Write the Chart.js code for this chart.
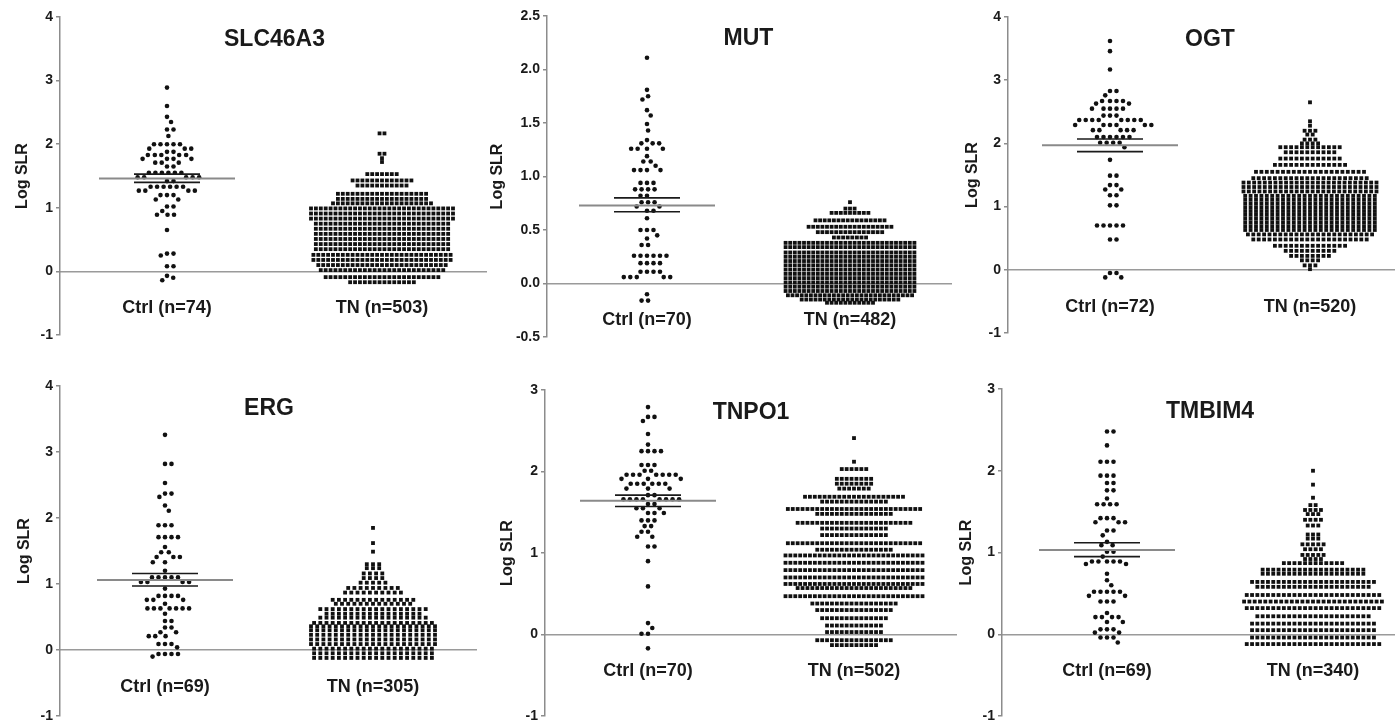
<!DOCTYPE html>
<html>
<head>
<meta charset="utf-8">
<script src="https://cdn.jsdelivr.net/npm/chart.js"></script>
<style>
  body { margin: 0; background: #fff; }
  #wrap { position: relative; width: 1395px; height: 724px; overflow: hidden; }
  #wrap canvas { position: absolute; }
</style>
</head>
<body>
<div id="wrap"></div>
<script>
// ---- data ----
const genes = ['SLC46A3', 'MUT', 'OGT', 'ERG', 'TNPO1', 'TMBIM4'];
const ctrlN = [74, 70, 72, 69, 70, 69];
const tnN = [503, 482, 520, 305, 502, 340];
const yMin = [-1, -0.5, -1, -1, -1, -1];
const yMax = [4, 2.5, 4, 4, 3, 3];
const yStep = [1, 0.5, 1, 1, 1, 1];
const ctrlMean = [1.46, 0.73, 1.97, 1.06, 1.64, 1.03];
const ctrlSemHi = [1.53, 0.80, 2.07, 1.16, 1.71, 1.12];
const ctrlSemLo = [1.40, 0.67, 1.87, 0.97, 1.57, 0.95];

// Ctrl groups: value levels and how many points sit at each level
const slcCtrlLevels = [2.89, 2.60, 2.43, 2.35, 2.23, 2.13, 2.00, 1.93, 1.88, 1.83, 1.77, 1.71, 1.65, 1.55, 1.48, 1.42, 1.33, 1.27, 1.20, 1.13, 1.02, 0.95, 0.89, 0.65, 0.28, 0.25, 0.08, -0.07, -0.10, -0.14];
const slcCtrlCounts = [1, 1, 1, 1, 2, 1, 5, 3, 2, 5, 4, 3, 2, 6, 5, 2, 6, 4, 3, 2, 2, 1, 3, 1, 2, 1, 2, 1, 1, 1];
const mutCtrlLevels = [2.11, 1.81, 1.75, 1.72, 1.62, 1.57, 1.49, 1.43, 1.34, 1.31, 1.26, 1.19, 1.14, 1.10, 1.06, 0.94, 0.88, 0.82, 0.76, 0.72, 0.68, 0.61, 0.50, 0.45, 0.42, 0.36, 0.26, 0.19, 0.11, 0.06, -0.10, -0.16];
const mutCtrlCounts = [1, 1, 1, 1, 1, 1, 1, 1, 1, 3, 4, 1, 2, 1, 4, 3, 4, 2, 3, 2, 2, 1, 3, 1, 1, 2, 6, 4, 4, 5, 1, 2];
const ogtCtrlLevels = [3.62, 3.46, 3.17, 2.83, 2.76, 2.67, 2.63, 2.55, 2.44, 2.37, 2.29, 2.21, 2.10, 2.01, 1.94, 1.74, 1.49, 1.34, 1.27, 1.18, 1.02, 0.70, 0.48, -0.05, -0.12];
const ogtCtrlCounts = [1, 1, 1, 2, 1, 4, 2, 5, 3, 8, 6, 5, 6, 4, 1, 1, 2, 2, 2, 2, 2, 5, 2, 2, 2];
const ergCtrlLevels = [3.26, 2.82, 2.53, 2.37, 2.32, 2.19, 2.11, 1.89, 1.71, 1.56, 1.48, 1.41, 1.33, 1.20, 1.10, 1.03, 0.93, 0.82, 0.76, 0.70, 0.63, 0.55, 0.44, 0.34, 0.27, 0.21, 0.09, 0.04, -0.06, -0.10];
const ergCtrlCounts = [1, 2, 1, 2, 1, 1, 1, 3, 4, 1, 2, 3, 2, 1, 5, 4, 1, 4, 3, 1, 7, 1, 2, 2, 2, 3, 3, 1, 4, 1];
const tnpoCtrlLevels = [2.79, 2.67, 2.62, 2.46, 2.33, 2.25, 2.08, 2.01, 1.96, 1.91, 1.85, 1.79, 1.71, 1.66, 1.60, 1.55, 1.49, 1.40, 1.33, 1.26, 1.20, 1.08, 0.90, 0.59, 0.14, 0.08, 0.01, -0.17];
const tnpoCtrlCounts = [1, 2, 1, 1, 1, 4, 3, 2, 7, 3, 6, 3, 2, 8, 2, 3, 3, 3, 2, 2, 2, 2, 1, 1, 1, 1, 2, 1];
const tmbCtrlLevels = [2.48, 2.31, 2.11, 1.94, 1.85, 1.76, 1.66, 1.59, 1.42, 1.37, 1.27, 1.21, 1.13, 1.09, 1.01, 0.95, 0.89, 0.86, 0.74, 0.66, 0.60, 0.52, 0.47, 0.40, 0.26, 0.21, 0.15, 0.06, 0.02, -0.04, -0.10];
const tmbCtrlCounts = [2, 1, 3, 3, 2, 2, 1, 4, 3, 3, 2, 1, 1, 2, 2, 1, 5, 2, 1, 1, 1, 5, 2, 3, 1, 4, 2, 3, 2, 3, 1];

// TN groups: rows of the swarm and the number of points in each row
const slcTnLevels = [2.17, 1.85, 1.78, 1.72, 1.53, 1.43, 1.35, 1.22, 1.14, 1.07, 0.99, 0.91, 0.83, 0.75, 0.67, 0.59, 0.51, 0.43, 0.35, 0.26, 0.18, 0.10, 0.02, -0.09, -0.17];
const slcTnCounts = [2, 2, 1, 1, 7, 13, 11, 19, 19, 21, 30, 30, 30, 28, 28, 28, 28, 28, 28, 29, 29, 27, 26, 24, 14];
const mutTnLevels = [0.76, 0.70, 0.66, 0.59, 0.53, 0.48, 0.43, 0.38, 0.34, 0.29, 0.25, 0.21, 0.17, 0.13, 0.09, 0.05, 0.01, -0.03, -0.07, -0.11, -0.15, -0.18];
const mutTnCounts = [1, 3, 9, 16, 19, 15, 8, 29, 29, 29, 29, 29, 29, 29, 29, 29, 29, 29, 29, 28, 22, 11];
const ogtTnLevels = [2.65, 2.35, 2.28, 2.20, 2.14, 2.06, 2.00, 1.94, 1.86, 1.76, 1.66, 1.55, 1.45, 1.38, 1.31, 1.24, 1.17, 1.11, 1.05, 0.99, 0.93, 0.87, 0.81, 0.75, 0.69, 0.63, 0.56, 0.48, 0.38, 0.30, 0.22, 0.15, 0.07, 0.01];
const ogtTnCounts = [1, 1, 1, 3, 2, 3, 4, 12, 10, 12, 14, 21, 22, 26, 26, 26, 25, 25, 25, 25, 25, 25, 25, 25, 25, 25, 24, 22, 14, 10, 8, 4, 3, 1];
const ergTnLevels = [1.85, 1.62, 1.49, 1.30, 1.24, 1.16, 1.09, 1.02, 0.94, 0.87, 0.76, 0.70, 0.62, 0.55, 0.49, 0.41, 0.36, 0.30, 0.23, 0.16, 0.09, 0.02, -0.05, -0.12];
const ergTnCounts = [1, 1, 1, 3, 3, 4, 4, 5, 9, 10, 14, 13, 18, 16, 18, 20, 21, 21, 21, 21, 21, 20, 20, 20];
const tnpoTnLevels = [2.41, 2.12, 2.03, 1.91, 1.85, 1.79, 1.69, 1.63, 1.54, 1.48, 1.37, 1.30, 1.22, 1.12, 1.04, 0.97, 0.88, 0.79, 0.70, 0.62, 0.57, 0.47, 0.38, 0.30, 0.20, 0.11, 0.03, -0.07, -0.13];
const tnpoTnCounts = [1, 1, 6, 8, 8, 7, 21, 14, 28, 16, 24, 14, 14, 28, 16, 29, 29, 29, 29, 29, 24, 29, 18, 16, 14, 12, 12, 16, 10];
const tmbTnLevels = [2.00, 1.83, 1.67, 1.58, 1.52, 1.47, 1.40, 1.33, 1.22, 1.17, 1.10, 1.04, 0.97, 0.92, 0.87, 0.79, 0.74, 0.64, 0.58, 0.48, 0.40, 0.32, 0.22, 0.13, 0.05, -0.04, -0.12];
const tmbTnCounts = [1, 1, 1, 2, 4, 3, 4, 3, 3, 3, 5, 4, 5, 4, 12, 20, 20, 24, 22, 26, 27, 26, 22, 24, 24, 24, 26];

const ctrlLevels = [slcCtrlLevels, mutCtrlLevels, ogtCtrlLevels, ergCtrlLevels, tnpoCtrlLevels, tmbCtrlLevels];
const ctrlCounts = [slcCtrlCounts, mutCtrlCounts, ogtCtrlCounts, ergCtrlCounts, tnpoCtrlCounts, tmbCtrlCounts];
const tnLevels = [slcTnLevels, mutTnLevels, ogtTnLevels, ergTnLevels, tnpoTnLevels, tmbTnLevels];
const tnCounts = [slcTnCounts, mutTnCounts, ogtTnCounts, ergTnCounts, tnpoTnCounts, tmbTnCounts];

// ---- panel geometry (pixels on the page) ----
const frames = [
  { axisX: 60, top: 17, bottom: 334.5, right: 487, ctrlX: 167, tnX: 382, tnW: 142, tnGap: 4.9, titleGap: 47 },
  { axisX: 547, top: 16, bottom: 336.5, right: 952, ctrlX: 647, tnX: 850, tnW: 135, tnGap: 4.6, titleGap: 59 },
  { axisX: 1008, top: 17, bottom: 332.5, right: 1395, ctrlX: 1110, tnX: 1310, tnW: 133, tnGap: 5.4, titleGap: 45 },
  { axisX: 60, top: 386, bottom: 715.5, right: 477, ctrlX: 165, tnX: 373, tnW: 138, tnGap: 6.2, titleGap: 45 },
  { axisX: 545, top: 390, bottom: 715.5, right: 957, ctrlX: 648, tnX: 854, tnW: 137, tnGap: 4.9, titleGap: 47 },
  { axisX: 1002, top: 388.5, bottom: 715, right: 1395, ctrlX: 1107, tnX: 1313, tnW: 139, tnGap: 5.3, titleGap: 45 }
];

const FONT = '"Liberation Sans", Arial, Helvetica, sans-serif';
const INK = '#1a1a1a';
const AXIS = '#8c8c8c';
Chart.defaults.font.family = FONT;
Chart.defaults.color = INK;

function expand(levels, counts) {
  const out = [];
  levels.forEach((v, k) => { for (let j = 0; j < counts[k]; j++) out.push(v); });
  return out;
}

// simple beeswarm: each point goes to the free spot closest to the column centre
function swarm(values, pxPerY, d) {
  const placed = [];
  return values.map(v => {
    const y = v * pxPerY;
    const near = placed.filter(p => Math.abs(p.y - y) < d);
    const cands = [0];
    near.forEach(p => {
      const dx = Math.sqrt(d * d - (p.y - y) ** 2);
      cands.push(p.x + dx, p.x - dx);
    });
    cands.sort((a, b) => Math.abs(a) - Math.abs(b));
    const x = cands.find(c => near.every(p => (p.x - c) ** 2 + (p.y - y) ** 2 >= d * d - 0.01));
    placed.push({ x, y });
    return { v, dx: x };
  });
}

// dense groups: one centred row per level, squeezed to the column width
function rowLayout(levels, counts, gap, maxW) {
  const pts = [];
  levels.forEach((v, k) => {
    const c = counts[k];
    const s = c > 1 ? Math.min(gap, maxW / (c - 1)) : 0;
    for (let j = 0; j < c; j++) pts.push({ v, dx: (j - (c - 1) / 2) * s });
  });
  return pts;
}

const geneTitle = {
  id: 'geneTitle',
  afterDraw(chart, args, opts) {
    const { ctx, chartArea, scales } = chart;
    ctx.save();
    ctx.font = 'bold 23px ' + FONT;
    ctx.fillStyle = INK;
    ctx.textAlign = 'center';
    ctx.textBaseline = 'middle';
    ctx.fillText(opts.text, scales.x.getPixelForValue(1.5), chartArea.top + 23);
    ctx.restore();
  }
};

const wrap = document.getElementById('wrap');

function buildPanel(i) {
  const f = frames[i];
  const pad = 12;
  const left = f.axisX - f.titleGap;
  const top = f.top - pad;
  const canvas = document.createElement('canvas');
  canvas.width = f.right - left;
  canvas.height = Math.round(f.bottom + pad - top);
  canvas.style.left = left + 'px';
  canvas.style.top = top + 'px';
  wrap.appendChild(canvas);

  const unit = f.tnX - f.ctrlX;
  const pxPerY = (f.bottom - f.top) / (yMax[i] - yMin[i]);
  const ctrlPts = swarm(expand(ctrlLevels[i], ctrlCounts[i]), pxPerY, 6.5)
    .map(p => ({ x: 1 + p.dx / unit, y: p.v }));
  const tnPts = rowLayout(tnLevels[i], tnCounts[i], f.tnGap, f.tnW)
    .map(p => ({ x: 2 + p.dx / unit, y: p.v }));
  const seg = (half, y) => [{ x: 1 - half / unit, y }, { x: 1 + half / unit, y }];
  const lineSet = (data, color, width) => ({
    data, showLine: true, borderColor: color, borderWidth: width, pointRadius: 0
  });

  new Chart(canvas, {
    type: 'scatter',
    data: {
      datasets: [
        lineSet(seg(68, ctrlMean[i]), '#8a8a8a', 2),
        lineSet(seg(33, ctrlSemHi[i]), INK, 1.6),
        lineSet(seg(33, ctrlSemLo[i]), INK, 1.6),
        { data: ctrlPts, pointStyle: 'circle', pointRadius: 2.3, backgroundColor: '#111', borderWidth: 0 },
        { data: tnPts, pointStyle: 'rect', pointRadius: 2.7, backgroundColor: '#111', borderWidth: 0 }
      ]
    },
    options: {
      responsive: false,
      animation: false,
      events: [],
      layout: { padding: { top: pad, bottom: pad, left: 0, right: 0 }, autoPadding: false },
      plugins: {
        legend: { display: false },
        tooltip: { enabled: false },
        geneTitle: { text: genes[i] }
      },
      scales: {
        x: {
          type: 'linear',
          position: { y: 0 },
          min: 1 - (f.ctrlX - f.axisX) / unit,
          max: 2 + (f.right - f.tnX) / unit,
          afterBuildTicks: s => { s.ticks = [{ value: 1 }, { value: 2 }]; },
          ticks: {
            callback: v => v === 1 ? `Ctrl (n=${ctrlN[i]})` : `TN (n=${tnN[i]})`,
            font: { size: 18, weight: 'bold' },
            color: INK,
            padding: 26,
            maxRotation: 0,
            autoSkip: false
          },
          grid: { display: false, drawTicks: false },
          border: { display: true, color: '#9a9a9a', width: 1.5 }
        },
        y: {
          min: yMin[i],
          max: yMax[i],
          afterFit: s => { s.width = f.titleGap; },
          ticks: {
            stepSize: yStep[i],
            callback: v => yStep[i] < 1 ? v.toFixed(1) : v,
            font: { size: 14, weight: 'bold' },
            color: INK,
            padding: 3
          },
          grid: { drawOnChartArea: false, drawTicks: true, tickLength: 4, color: AXIS, lineWidth: 1.5 },
          border: { display: true, color: AXIS, width: 1.5 },
          title: { display: true, text: 'Log SLR', font: { size: 16, weight: 'bold' }, color: INK, padding: 0 }
        }
      }
    },
    plugins: [geneTitle]
  });
}

genes.forEach((g, i) => buildPanel(i));
</script>
</body>
</html>
